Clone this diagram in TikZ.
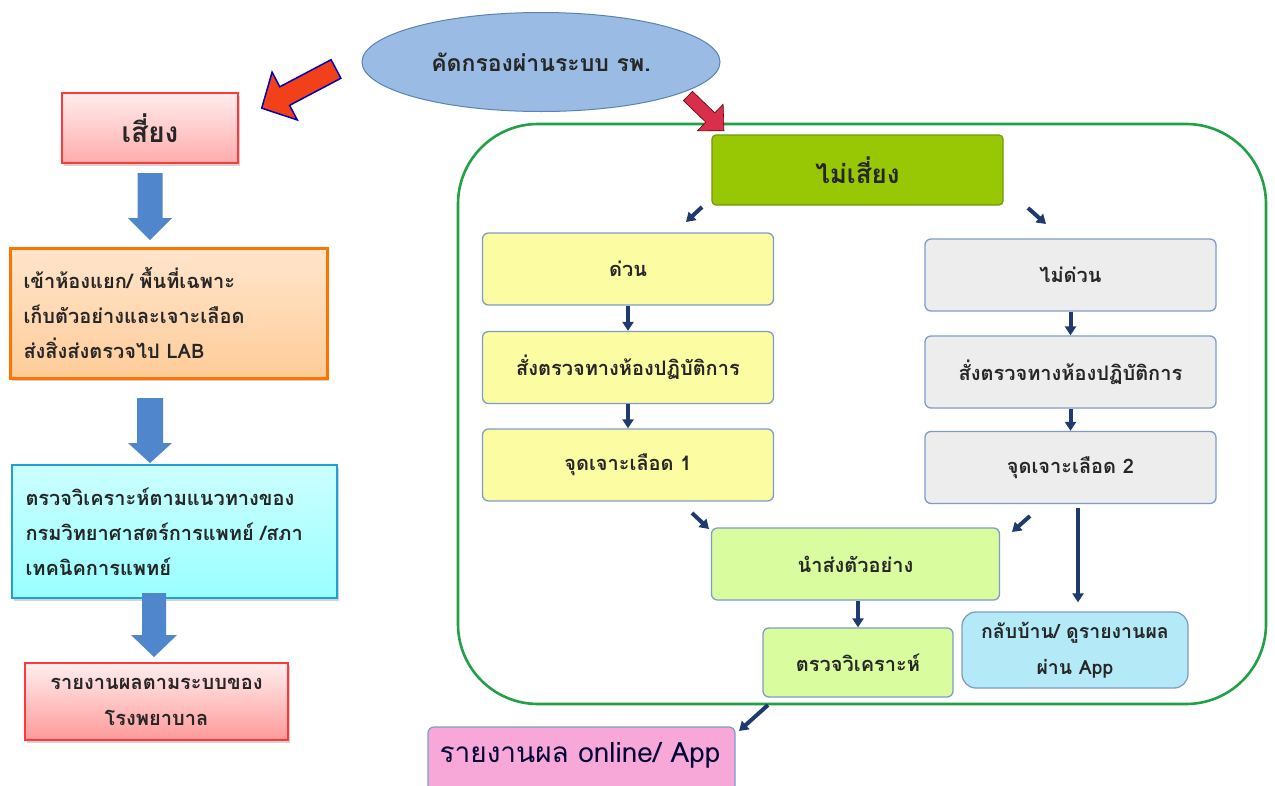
\documentclass[tikz,border=0pt]{standalone}
\usepackage{fontspec}
\setmainfont[Script=Thai]{Loma}
\usetikzlibrary{shapes.geometric,shadows,arrows.meta}
\definecolor{txt}{HTML}{262626}
\definecolor{lblue}{HTML}{4F86CC}
\definecolor{navy}{HTML}{1F3A6E}
\definecolor{boxedge}{HTML}{7F9CC8}
\definecolor{contgreen}{HTML}{22A046}
\definecolor{ylw}{HTML}{FCFCA2}
\definecolor{gry}{HTML}{EDEDED}
\definecolor{lgreen}{HTML}{D9FC9E}
\definecolor{cyanbox}{HTML}{B4EAF8}
\definecolor{onlinepink}{HTML}{F7A8D9}
\definecolor{kgreen}{HTML}{98C804}
\definecolor{kgreenedge}{HTML}{6E9A10}
\definecolor{ellfill}{HTML}{9ABBE3}
\definecolor{elledge}{HTML}{5A82B8}
\definecolor{redL}{HTML}{F2401A}
\definecolor{redR}{HTML}{D8304C}
\tikzset{
  lbox/.style={rectangle, inner sep=0pt, text=txt, line width=1.2pt, drop shadow={opacity=0.35, shadow xshift=2pt, shadow yshift=-3pt}},
  rbox/.style={rectangle, rounded corners=6pt, draw=boxedge, line width=1.3pt, inner sep=0pt, text=txt, align=center,
     minimum width=291pt, minimum height=72pt, font=\fontsize{20}{23}\selectfont\bfseries},
  darr/.style={navy, line width=4pt, -{Triangle[length=9pt,width=11pt]}},
  pics/barrow/.style n args={5}{code={
     \path[#5] (0,-#2/2) -- (#1-#4,-#2/2) -- (#1-#4,-#3/2) -- (#1,0) -- (#1-#4,#3/2) -- (#1-#4,#2/2) -- (0,#2/2) -- cycle;}}
}
\begin{document}
\begin{tikzpicture}[x=1pt,y=-1pt]
\useasboundingbox (0,0) rectangle (1275,785);
\fill[white] (0,0) rectangle (1275,785);

% container
\node[draw=contgreen, line width=2.6pt, rounded corners=80pt, minimum width=808pt, minimum height=580pt, inner sep=0pt] (cont) at (862,414) {};

% ellipse
\node[ellipse, draw=elledge, fill=ellfill, line width=1pt, minimum width=358pt, minimum height=99pt, inner sep=0pt,
  text=txt, font=\fontsize{23}{26}\selectfont\bfseries] (screen) at (541,62) {คัดกรองผ่านระบบ รพ.};

% left column
\node[lbox, draw=red!70!pink, top color=white!70!pink, bottom color=pink!90!red, minimum width=176pt, minimum height=70pt,
  font=\fontsize{28}{31}\selectfont\bfseries] (risk) at (150,128) {เสี่ยง};
\node[lbox, draw=orange!90!red, line width=3pt, top color=orange!20, bottom color=orange!40, minimum width=317pt, minimum height=130pt,
  text width=290pt, align=left, font=\fontsize{20}{35}\selectfont\bfseries] (isolate) at (168.5,313)
  {เข้าห้องแยก/ พื้นที่เฉพาะ\\เก็บตัวอย่างและเจาะเลือด\\ส่งสิ่งส่งตรวจไป LAB};
\node[lbox, draw=cyan!70!teal, top color=cyan!20, bottom color=cyan!40, minimum width=325pt, minimum height=133pt,
  text width=298pt, align=left, font=\fontsize{20}{35}\selectfont\bfseries] (analyse) at (174.5,531.5)
  {ตรวจวิเคราะห์ตามแนวทางของ\\กรมวิทยาศาสตร์การแพทย์ /สภา\\เทคนิคการแพทย์};
\node[lbox, draw=red!70!pink, top color=white!75!pink, bottom color=pink!80!red, minimum width=263pt, minimum height=77pt,
  align=center, font=\fontsize{20}{36}\selectfont\bfseries] (hosp) at (156.5,701.5)
  {รายงานผลตามระบบของ\\โรงพยาบาล};

% left block arrows
\pic[rotate=-90] at (150,173) {barrow={67}{25}{44}{22}{fill=lblue}};
\pic[rotate=-90] at (150,398) {barrow={65}{26}{44}{20}{fill=lblue}};
\pic[rotate=-90] at (154,593) {barrow={64}{24}{46}{22}{fill=lblue}};

% red arrows from screening
\pic[rotate=207.8] at (336,69) {barrow={84}{21}{54}{26}{fill=redL, draw=blue!70!black, line width=1.5pt}};
\pic[rotate=-44] at (688,96) {barrow={50}{13}{37}{19}{fill=redR, draw=black!60!red, line width=0.6pt}};

% right side
\node[rectangle, rounded corners=4pt, draw=kgreenedge, fill=kgreen, line width=1.2pt, minimum width=291pt, minimum height=70pt,
  text=txt, font=\fontsize{26}{30}\selectfont\bfseries] (norisk) at (857.5,170) {ไม่เสี่ยง};

\node[rbox, fill=ylw] (urgent) at (628,269) {ด่วน};
\node[rbox, fill=ylw] (lab1) at (628,367.5) {สั่งตรวจทางห้องปฏิบัติการ};
\node[rbox, fill=ylw] (draw1) at (628,465) {จุดเจาะเลือด 1};

\node[rbox, fill=gry] (nonurg) at (1070.5,275) {ไม่ด่วน};
\node[rbox, fill=gry] (lab2) at (1070.5,372) {สั่งตรวจทางห้องปฏิบัติการ};
\node[rbox, fill=gry] (draw2) at (1070.5,467.5) {จุดเจาะเลือด 2};

\node[rbox, fill=lgreen, minimum width=288pt, minimum height=72pt] (send) at (855.5,564) {นำส่งตัวอย่าง};
\node[rbox, fill=lgreen, minimum width=190pt, minimum height=69pt] (test) at (858,662.5) {ตรวจวิเคราะห์};
\node[rbox, fill=cyanbox, rounded corners=14pt, minimum width=226pt, minimum height=76pt, font=\fontsize{19.5}{36}\selectfont\bfseries] (home) at (1075,650)
  {กลับบ้าน/ ดูรายงานผล\\ผ่าน App};
\node[rectangle, draw=boxedge, fill=onlinepink, line width=1.2pt, rounded corners=6pt, minimum width=307pt, minimum height=80pt, inner sep=0pt] (online) at (581.5,767) {};
\node[text=black!80!blue, font=\fontsize{28}{31}\selectfont, anchor=center] (onlinetxt) at (580,755) {รายงานผล online/ App};

% small connectors
\coordinate (a1s) at (702,207); \coordinate (a1e) at (686,222);
\coordinate (a2s) at (1028,208); \coordinate (a2e) at (1046,224);
\coordinate (a3s) at (692,513); \coordinate (a3e) at (709,529);
\coordinate (a4s) at (1030,516); \coordinate (a4e) at (1012,532);
\coordinate (a5s) at (768,705); \coordinate (a5e) at (739,731);
\coordinate (a6s) at (1078,508);
\draw[darr] (a1s) -- (a1e);
\draw[darr] (a2s) -- (a2e);
\draw[darr] (a3s) -- (a3e);
\draw[darr] (a4s) -- (a4e);
\draw[darr] (a5s) -- (a5e);
\draw[darr] (urgent.south) -- (lab1.north);
\draw[darr] (lab1.south) -- (draw1.north);
\draw[darr] (nonurg.south) -- (lab2.north);
\draw[darr] (lab2.south) -- (draw2.north);
\draw[darr] (test.north |- send.south) -- (test.north);
\draw[darr, shorten >=9pt] (a6s) -- (home.north -| a6s);
\end{tikzpicture}
\end{document}
